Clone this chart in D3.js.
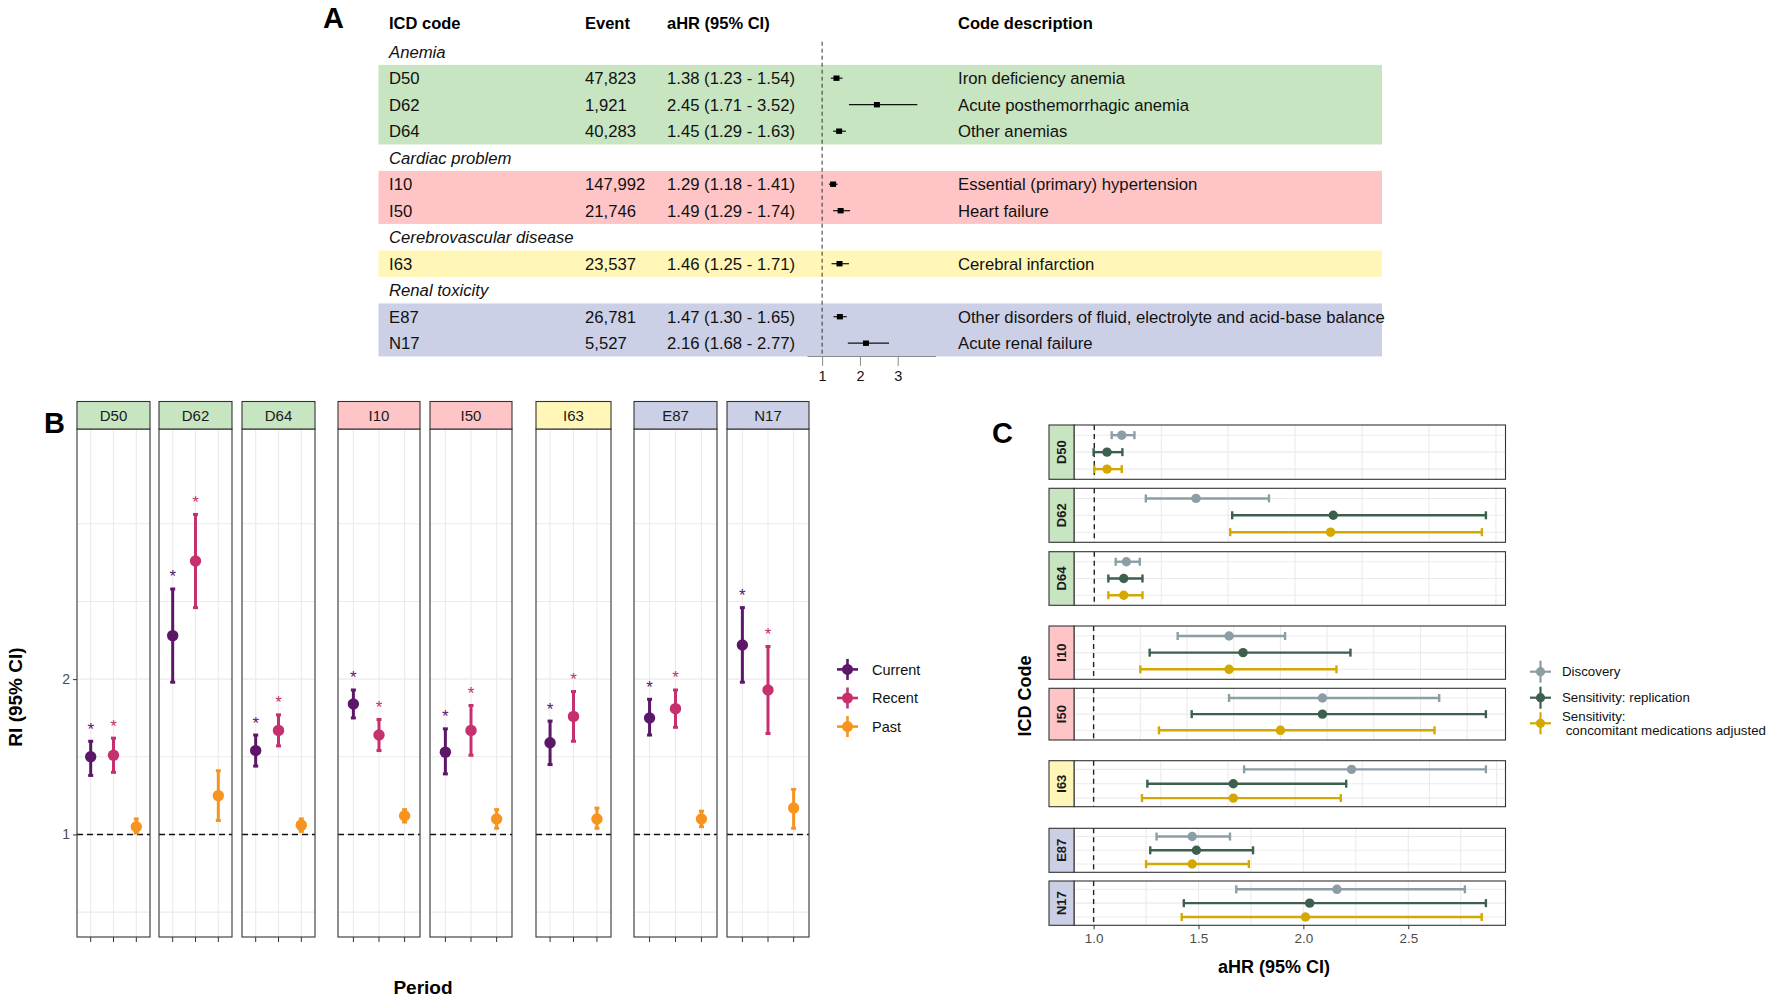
<!DOCTYPE html>
<html>
<head>
<meta charset="utf-8">
<script src="https://cdn.jsdelivr.net/npm/d3@7"></script>
<style>
  body { margin: 0; background: #fff; }
  text { font-family: "Liberation Sans", Arial, sans-serif; }
</style>
</head>
<body>
<div id="chart"></div>
<script>
// ---------------- data ----------------
var groupNames = ["Anemia", "Cardiac problem", "Cerebrovascular disease", "Renal toxicity"];
var groupColors = ["#c7e5c0", "#ffc5c6", "#fff6b8", "#cbd0e6"];

var codes = ["D50", "D62", "D64", "I10", "I50", "I63", "E87", "N17"];
var codeGroup = [0, 0, 0, 1, 1, 2, 3, 3];
var events = ["47,823", "1,921", "40,283", "147,992", "21,746", "23,537", "26,781", "5,527"];
var aHR = [1.38, 2.45, 1.45, 1.29, 1.49, 1.46, 1.47, 2.16];
var aHRLow = [1.23, 1.71, 1.29, 1.18, 1.29, 1.25, 1.30, 1.68];
var aHRHigh = [1.54, 3.52, 1.63, 1.41, 1.74, 1.71, 1.65, 2.77];
var descriptions = [
    "Iron deficiency anemia",
    "Acute posthemorrhagic anemia",
    "Other anemias",
    "Essential (primary) hypertension",
    "Heart failure",
    "Cerebral infarction",
    "Other disorders of fluid, electrolyte and acid-base balance",
    "Acute renal failure"
];
var forestTicks = [1, 2, 3];

// panel B: relative incidence [estimate, lower, upper] per code
var periods = ["Current", "Recent", "Past"];
var periodColors = ["#5c1769", "#c7306f", "#f7941f"];
var riCurrent = [[1.50, 1.38, 1.60], [2.28, 1.98, 2.58], [1.54, 1.44, 1.64], [1.84, 1.75, 1.93],
                 [1.53, 1.39, 1.68], [1.59, 1.45, 1.73], [1.75, 1.64, 1.87], [2.22, 1.98, 2.46]];
var riRecent = [[1.51, 1.40, 1.62], [2.76, 2.46, 3.06], [1.67, 1.57, 1.77], [1.64, 1.54, 1.74],
                [1.67, 1.51, 1.83], [1.76, 1.60, 1.92], [1.81, 1.69, 1.93], [1.93, 1.65, 2.21]];
var riPast = [[1.05, 1.01, 1.10], [1.25, 1.09, 1.41], [1.06, 1.02, 1.10], [1.12, 1.08, 1.16],
              [1.10, 1.04, 1.16], [1.10, 1.04, 1.17], [1.10, 1.05, 1.15], [1.17, 1.04, 1.29]];
var sigCurrent = [1, 1, 1, 1, 1, 1, 1, 1];
var sigRecent = [1, 1, 1, 1, 1, 1, 1, 1];
var sigPast = [0, 0, 0, 0, 0, 0, 0, 0];
var riTicks = [1, 2];

// panel C: aHR [estimate, lower, upper] per code
var analyses = ["Discovery", "Sensitivity: replication", "Sensitivity:\n concomitant medications adjusted"];
var analysisColors = ["#8c9ea5", "#3d5f4d", "#d4a800"];
var hrDiscovery = [[1.41, 1.26, 1.60], [2.52, 1.77, 3.61], [1.48, 1.32, 1.68], [1.29, 1.18, 1.41],
                   [1.49, 1.29, 1.74], [1.48, 1.28, 1.73], [1.47, 1.30, 1.65], [2.16, 1.68, 2.77]];
var hrReplication = [[1.19, 0.99, 1.42], [4.57, 3.06, 6.85], [1.44, 1.21, 1.72], [1.32, 1.12, 1.55],
                     [1.49, 1.21, 1.84], [1.26, 1.10, 1.47], [1.49, 1.27, 1.76], [2.03, 1.43, 2.87]];
var hrConcomitant = [[1.19, 1.00, 1.41], [4.53, 3.03, 6.79], [1.44, 1.21, 1.72], [1.29, 1.10, 1.52],
                     [1.40, 1.14, 1.73], [1.26, 1.09, 1.46], [1.47, 1.25, 1.74], [2.01, 1.42, 2.85]];
var hrTicks = [1.0, 1.5, 2.0, 2.5];

// ---------------- svg ----------------
var W = 1772, H = 1001;
var svg = d3.select("#chart").append("svg")
    .attr("width", W)
    .attr("height", H);

var gridCol = "#ebebeb", borderCol = "#333333";

// panel letters
[["A", 323, 28], ["B", 44, 433], ["C", 992, 443]].forEach(function (d) {
    svg.append("text").text(d[0])
        .attr("x", d[1]).attr("y", d[2])
        .attr("font-size", 29).attr("font-weight", "bold");
});

// ================= panel A : table + forest =================
var gA = svg.append("g");
var tableTop = 51.7, lineStep = 26.5;
var colX = [389, 585, 667, 958];
var bandX0 = 378.5, bandX1 = 1382;
var tableFont = 16.7;

// one line per group heading and per code
var lines = [];
groupNames.forEach(function (g, gi) {
    lines.push({ kind: "group", label: g, group: gi });
    codes.forEach(function (c, i) {
        if (codeGroup[i] === gi) lines.push({ kind: "row", code: i, group: gi });
    });
});
var yLine = d3.scaleLinear().domain([0, 1]).range([tableTop, tableTop + lineStep]);
lines.forEach(function (l, k) { l.y = yLine(k); });
var rowLines = lines.filter(function (l) { return l.kind === "row"; });

groupNames.forEach(function (g, gi) {
    var rows = rowLines.filter(function (l) { return l.group === gi; });
    gA.append("rect")
        .attr("x", bandX0)
        .attr("y", rows[0].y - lineStep / 2)
        .attr("width", bandX1 - bandX0)
        .attr("height", rows[rows.length - 1].y - rows[0].y + lineStep)
        .attr("fill", groupColors[gi]);
});

["ICD code", "Event", "aHR (95% CI)", "Code description"].forEach(function (h, k) {
    gA.append("text").text(h)
        .attr("x", colX[k]).attr("y", 29)
        .attr("font-size", 16.5).attr("font-weight", "bold");
});

gA.selectAll(".grouplabel")
    .data(lines.filter(function (l) { return l.kind === "group"; }))
    .enter()
    .append("text")
    .text(function (d) { return d.label; })
    .attr("x", colX[0])
    .attr("y", function (d) { return d.y + 5.8; })
    .attr("font-size", tableFont)
    .attr("font-style", "italic")
    .attr("fill", "#111");

var f2 = d3.format(".2f");
var rowText = [
    function (i) { return codes[i]; },
    function (i) { return events[i]; },
    function (i) { return f2(aHR[i]) + " (" + f2(aHRLow[i]) + " - " + f2(aHRHigh[i]) + ")"; },
    function (i) { return descriptions[i]; }
];
rowText.forEach(function (fn, k) {
    gA.selectAll(".col" + k)
        .data(rowLines)
        .enter()
        .append("text")
        .text(function (d) { return fn(d.code); })
        .attr("x", colX[k])
        .attr("y", function (d) { return d.y + 5.8; })
        .attr("font-size", tableFont)
        .attr("fill", "#111");
});

var xF = d3.scaleLinear().domain([0.6, 4]).range([807, 935.5]);

gA.append("line")
    .attr("x1", xF(1)).attr("x2", xF(1))
    .attr("y1", 41.7).attr("y2", 356)
    .attr("stroke", "#333").attr("stroke-width", 1)
    .attr("stroke-dasharray", "4,3");

gA.selectAll(".ci")
    .data(rowLines)
    .enter()
    .append("line")
    .attr("x1", function (d) { return xF(aHRLow[d.code]); })
    .attr("x2", function (d) { return xF(aHRHigh[d.code]); })
    .attr("y1", function (d) { return d.y; })
    .attr("y2", function (d) { return d.y; })
    .attr("stroke", "#111").attr("stroke-width", 1.2);

gA.selectAll(".sq")
    .data(rowLines)
    .enter()
    .append("rect")
    .attr("x", function (d) { return xF(aHR[d.code]) - 3; })
    .attr("y", function (d) { return d.y - 2.7; })
    .attr("width", 6).attr("height", 5.4)
    .attr("fill", "#000");

var axA = gA.append("g")
    .attr("transform", "translate(0,356)")
    .call(d3.axisBottom(xF).tickValues(forestTicks).tickSize(10).tickSizeOuter(0).tickFormat(d3.format("d")));
axA.select(".domain").attr("stroke", "#8c8c8c");
axA.selectAll(".tick line").attr("stroke", "#8c8c8c");
axA.selectAll(".tick text")
    .attr("y", 15)
    .attr("font-size", 14.5)
    .attr("font-family", "Liberation Sans, Arial, sans-serif")
    .attr("fill", "#111");

// ================= panel B : relative incidence =================
var gB = svg.append("g");
var bTop = 429, bBottom = 937, stripH = 27.5;
var bLeft = [77, 159, 242, 338, 430, 536, 634, 727];
var bWidth = [73, 73, 73, 82, 82, 75, 83, 82];
var yB = d3.scaleLinear().domain([0.34, 3.61]).range([bBottom, bTop]);
var riGrid = d3.range(1, 7).map(function (k) { return k / 2; });
var riSeries = [riCurrent, riRecent, riPast];
var riSig = [sigCurrent, sigRecent, sigPast];

codes.forEach(function (code, i) {
    var x0 = bLeft[i], x1 = bLeft[i] + bWidth[i];
    var xB = d3.scalePoint().domain(periods).range([x0, x1]).padding(0.6);
    var g = gB.append("g");

    g.selectAll(".hg").data(riGrid).enter().append("line")
        .attr("x1", x0).attr("x2", x1)
        .attr("y1", function (d) { return yB(d); })
        .attr("y2", function (d) { return yB(d); })
        .attr("stroke", gridCol).attr("stroke-width", 1.1);
    g.selectAll(".vg").data(periods).enter().append("line")
        .attr("x1", function (d) { return xB(d); })
        .attr("x2", function (d) { return xB(d); })
        .attr("y1", bTop).attr("y2", bBottom)
        .attr("stroke", gridCol).attr("stroke-width", 1.1);

    g.append("line")
        .attr("x1", x0).attr("x2", x1)
        .attr("y1", yB(1)).attr("y2", yB(1))
        .attr("stroke", "#111").attr("stroke-width", 1.5)
        .attr("stroke-dasharray", "6,4");

    periods.forEach(function (p, k) {
        var v = riSeries[k][i];
        var cx = xB(p), col = periodColors[k];
        g.append("line")
            .attr("x1", cx).attr("x2", cx)
            .attr("y1", yB(v[1])).attr("y2", yB(v[2]))
            .attr("stroke", col).attr("stroke-width", 3);
        [v[1], v[2]].forEach(function (e) {
            g.append("line")
                .attr("x1", cx - 2.5).attr("x2", cx + 2.5)
                .attr("y1", yB(e)).attr("y2", yB(e))
                .attr("stroke", col).attr("stroke-width", 3);
        });
        g.append("circle")
            .attr("cx", cx).attr("cy", yB(v[0])).attr("r", 5.7)
            .attr("fill", col);
        if (riSig[k][i]) {
            g.append("text").text("*")
                .attr("x", cx).attr("y", yB(v[2] + 0.1) + 9)
                .attr("text-anchor", "middle")
                .attr("font-size", 17)
                .attr("fill", col);
        }
    });

    // bottom ticks
    g.selectAll(".tk").data(periods).enter().append("line")
        .attr("x1", function (d) { return xB(d); })
        .attr("x2", function (d) { return xB(d); })
        .attr("y1", bBottom).attr("y2", bBottom + 5)
        .attr("stroke", borderCol).attr("stroke-width", 1);

    g.append("rect")
        .attr("x", x0).attr("y", bTop)
        .attr("width", x1 - x0).attr("height", bBottom - bTop)
        .attr("fill", "none").attr("stroke", borderCol).attr("stroke-width", 1.1);

    // strip
    g.append("rect")
        .attr("x", x0).attr("y", bTop - stripH)
        .attr("width", x1 - x0).attr("height", stripH)
        .attr("fill", groupColors[codeGroup[i]])
        .attr("stroke", borderCol).attr("stroke-width", 1.1);
    g.append("text").text(code)
        .attr("x", (x0 + x1) / 2).attr("y", bTop - stripH / 2 + 5.3)
        .attr("text-anchor", "middle")
        .attr("font-size", 15)
        .attr("fill", "#1a1a1a");
});

// y axis of panel B (left of first panel)
var axB = gB.append("g")
    .attr("transform", "translate(" + bLeft[0] + ",0)")
    .call(d3.axisLeft(yB).tickValues(riTicks).tickSize(4).tickSizeOuter(0).tickFormat(d3.format("d")));
axB.select(".domain").remove();
axB.selectAll(".tick line").attr("stroke", borderCol);
axB.selectAll(".tick text")
    .attr("font-size", 14)
    .attr("font-family", "Liberation Sans, Arial, sans-serif")
    .attr("fill", "#4d4d4d");

gB.append("text").text("RI (95% CI)")
    .attr("transform", "translate(22,697) rotate(-90)")
    .attr("text-anchor", "middle")
    .attr("font-size", 19).attr("font-weight", "bold");
gB.append("text").text("Period")
    .attr("x", 423).attr("y", 994)
    .attr("text-anchor", "middle")
    .attr("font-size", 19).attr("font-weight", "bold");

// legend B
var legB = gB.append("g");
periods.forEach(function (p, k) {
    var ly = 669.4 + k * 28.6;
    legB.append("line").attr("x1", 837).attr("x2", 858).attr("y1", ly).attr("y2", ly)
        .attr("stroke", periodColors[k]).attr("stroke-width", 2.6);
    legB.append("line").attr("x1", 847.5).attr("x2", 847.5).attr("y1", ly - 10.5).attr("y2", ly + 10.5)
        .attr("stroke", periodColors[k]).attr("stroke-width", 2.6);
    legB.append("circle").attr("cx", 847.5).attr("cy", ly).attr("r", 5.5)
        .attr("fill", periodColors[k]);
    legB.append("text").text(p)
        .attr("x", 872).attr("y", ly + 5.2)
        .attr("font-size", 14.5).attr("fill", "#111");
});

// ================= panel C : sensitivity forest =================
var gC = svg.append("g");
var cLeft = 1074, cRight = 1505.5, cStripX = 1049;
var cTop = [425, 488.3, 551.7, 626, 688.3, 760.7, 828.3, 881];
var cBottom = [479.3, 542.3, 605.3, 679.3, 740, 806.7, 872.3, 925.3];
var cGridStep = [1, 0.1, 0.125, 0.25];
var hrSeries = [hrDiscovery, hrReplication, hrConcomitant];

// one x scale per disease group (range of the reference line and all CIs, 5% padding)
var xC = groupNames.map(function (g, gi) {
    var lo = 1, hi = 1;
    codes.forEach(function (c, i) {
        if (codeGroup[i] !== gi) return;
        hrSeries.forEach(function (s) {
            lo = Math.min(lo, s[i][1]);
            hi = Math.max(hi, s[i][2]);
        });
    });
    var pad = (hi - lo) * 0.05;
    return d3.scaleLinear().domain([lo - pad, hi + pad]).range([cLeft, cRight]);
});

codes.forEach(function (code, i) {
    var gi = codeGroup[i], x = xC[gi];
    var top = cTop[i], bottom = cBottom[i];
    var yC = d3.scalePoint().domain(analyses).range([top, bottom]).padding(0.6);
    var g = gC.append("g");
    var dom = x.domain(), step = cGridStep[gi];
    var gridVals = d3.range(Math.ceil(dom[0] / step - 1e-9), Math.floor(dom[1] / step + 1e-9) + 1)
        .map(function (k) { return k * step; });

    g.selectAll(".vg").data(gridVals).enter().append("line")
        .attr("x1", function (d) { return x(d); })
        .attr("x2", function (d) { return x(d); })
        .attr("y1", top).attr("y2", bottom)
        .attr("stroke", gridCol).attr("stroke-width", 1.1);
    g.selectAll(".hg").data(analyses).enter().append("line")
        .attr("x1", cLeft).attr("x2", cRight)
        .attr("y1", function (d) { return yC(d); })
        .attr("y2", function (d) { return yC(d); })
        .attr("stroke", gridCol).attr("stroke-width", 1.1);

    g.append("line")
        .attr("x1", x(1)).attr("x2", x(1))
        .attr("y1", top).attr("y2", bottom)
        .attr("stroke", "#222").attr("stroke-width", 1.4)
        .attr("stroke-dasharray", "5,4");

    analyses.forEach(function (a, k) {
        var v = hrSeries[k][i];
        var cy = yC(a), col = analysisColors[k];
        g.append("line")
            .attr("x1", x(v[1])).attr("x2", x(v[2]))
            .attr("y1", cy).attr("y2", cy)
            .attr("stroke", col).attr("stroke-width", 2.4);
        [v[1], v[2]].forEach(function (e) {
            g.append("line")
                .attr("x1", x(e)).attr("x2", x(e))
                .attr("y1", cy - 4).attr("y2", cy + 4)
                .attr("stroke", col).attr("stroke-width", 2.4);
        });
        g.append("circle")
            .attr("cx", x(v[0])).attr("cy", cy).attr("r", 4.7)
            .attr("fill", col);
    });

    g.append("rect")
        .attr("x", cLeft).attr("y", top)
        .attr("width", cRight - cLeft).attr("height", bottom - top)
        .attr("fill", "none").attr("stroke", borderCol).attr("stroke-width", 1.1);
    g.append("rect")
        .attr("x", cStripX).attr("y", top)
        .attr("width", cLeft - cStripX).attr("height", bottom - top)
        .attr("fill", groupColors[gi])
        .attr("stroke", borderCol).attr("stroke-width", 1.1);
    g.append("text").text(code)
        .attr("transform", "translate(" + ((cStripX + cLeft) / 2 + 4.6) + "," + ((top + bottom) / 2) + ") rotate(-90)")
        .attr("text-anchor", "middle")
        .attr("font-size", 13).attr("font-weight", "bold")
        .attr("fill", "#1a1a1a");
});

// x axis under the last panel
var axC = gC.append("g")
    .attr("transform", "translate(0," + cBottom[cBottom.length - 1] + ")")
    .call(d3.axisBottom(xC[3]).tickValues(hrTicks).tickSize(4).tickSizeOuter(0).tickFormat(d3.format(".1f")));
axC.select(".domain").remove();
axC.selectAll(".tick line").attr("stroke", borderCol);
axC.selectAll(".tick text")
    .attr("y", 8)
    .attr("font-size", 13.5)
    .attr("font-family", "Liberation Sans, Arial, sans-serif")
    .attr("fill", "#4d4d4d");

gC.append("text").text("aHR (95% CI)")
    .attr("x", 1274).attr("y", 973)
    .attr("text-anchor", "middle")
    .attr("font-size", 18).attr("font-weight", "bold");
gC.append("text").text("ICD Code")
    .attr("transform", "translate(1031,696) rotate(-90)")
    .attr("text-anchor", "middle")
    .attr("font-size", 18).attr("font-weight", "bold");

// legend C
var legC = gC.append("g");
var legCY = [671.7, 697.7, 723.3];
analyses.forEach(function (a, k) {
    var ly = legCY[k], col = analysisColors[k];
    legC.append("line").attr("x1", 1530).attr("x2", 1551).attr("y1", ly).attr("y2", ly)
        .attr("stroke", col).attr("stroke-width", 2.2);
    legC.append("line").attr("x1", 1540.5).attr("x2", 1540.5).attr("y1", ly - 11).attr("y2", ly + 11)
        .attr("stroke", col).attr("stroke-width", 2.2);
    legC.append("circle").attr("cx", 1540.5).attr("cy", ly).attr("r", 4.6).attr("fill", col);
    var parts = a.split("\n");
    var t = legC.append("text")
        .attr("x", 1562)
        .attr("y", ly + 4.6 - (parts.length - 1) * 6.7)
        .attr("font-size", 13.3).attr("fill", "#111")
        .style("white-space", "pre");
    parts.forEach(function (p, j) {
        t.append("tspan").text(p)
            .attr("x", 1562)
            .attr("dy", j === 0 ? 0 : 13.4);
    });
});
</script>
</body>
</html>
